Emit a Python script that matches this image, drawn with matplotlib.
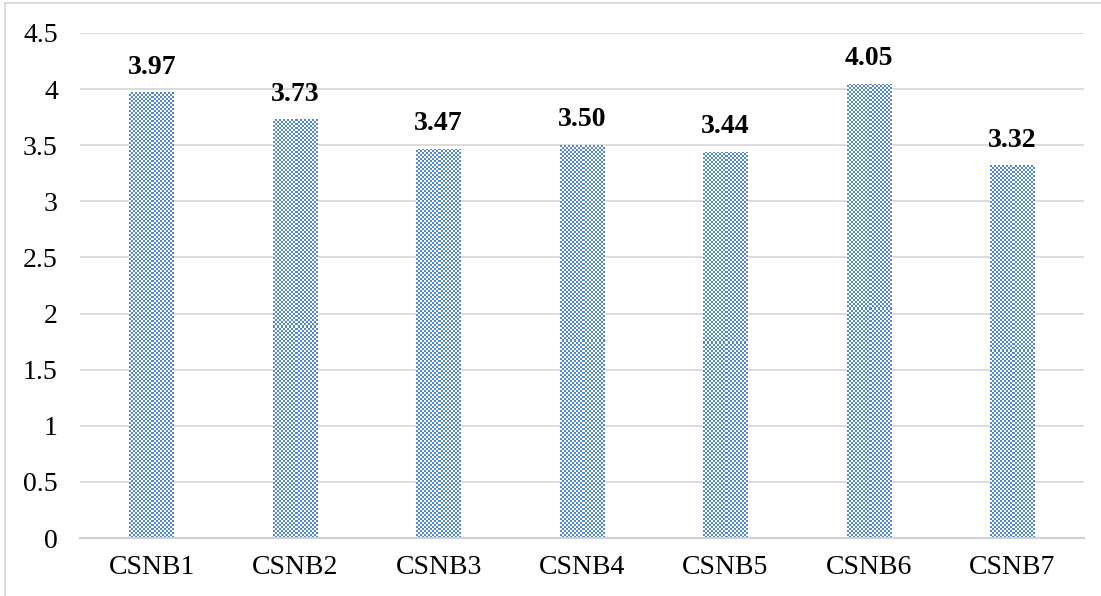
import numpy as np
import matplotlib
matplotlib.use("Agg")
import matplotlib.pyplot as plt
from matplotlib.colors import ListedColormap
from matplotlib.lines import Line2D

categories = ["CSNB1", "CSNB2", "CSNB3", "CSNB4", "CSNB5", "CSNB6", "CSNB7"]
scores = [3.97, 3.73, 3.47, 3.50, 3.44, 4.05, 3.32]
yticks = [0, 0.5, 1, 1.5, 2, 2.5, 3, 3.5, 4, 4.5]
ytick_labels = ["0", "0.5", "1", "1.5", "2", "2.5", "3", "3.5", "4", "4.5"]

plt.rcParams["font.family"] = ["Liberation Serif", "DejaVu Serif"]

W, H = 1101, 596
fig = plt.figure(figsize=(W / 100, H / 100), dpi=100)
ax = fig.add_axes([80 / W, 58 / H, 1004 / W, 505 / H])

x = np.arange(len(categories))
bw = 0.31
bars = ax.bar(x, scores, width=bw, color="none", edgecolor="none", zorder=2)

# checkered texture clipped to each bar (mimics Excel's pattern fill)
cmap = ListedColormap(["#ffffff", "#4F86DA"])
px_per_y = 505 / 4.5
px_per_x = 1004 / 7
cell = 2.0
for b in bars:
    x0, w, h = b.get_x(), b.get_width(), b.get_height()
    nx = max(1, int(round(w * px_per_x / cell)))
    ny = max(1, int(round(h * px_per_y / cell)))
    checker = (np.add.outer(np.arange(ny), np.arange(nx)) % 2).astype(float)
    im = ax.imshow(checker, extent=(x0, x0 + w, 0, h), cmap=cmap, vmin=0, vmax=1,
                   interpolation="nearest", aspect="auto", origin="lower", zorder=2)
    im.set_clip_path(b)

for xi, v in zip(x, scores):
    ax.text(xi, v + 0.115, f"{v:.2f}", ha="center", va="bottom",
            fontsize=20, fontweight="bold", color="black")

ax.set_xlim(-0.5, len(categories) - 0.5)
ax.set_ylim(0, 4.5)
ax.set_yticks(yticks)
ax.set_yticklabels(ytick_labels)
ax.set_xticks(x)
ax.set_xticklabels(categories)
ax.tick_params(axis="both", length=0, labelsize=20, colors="black")
ax.tick_params(axis="y", pad=16)
ax.tick_params(axis="x", pad=12)
ax.yaxis.grid(True, color="#D9D9D9", linewidth=1.3)
ax.set_axisbelow(True)
for s in ["top", "right", "left"]:
    ax.spines[s].set_visible(False)
ax.spines["bottom"].set_color("#D0D0D0")
ax.spines["bottom"].set_linewidth(1.5)

# outer chart border (left and top visible in the reference)
fig.add_artist(Line2D([5 / W, 5 / W], [0, 1 - 3 / H], transform=fig.transFigure,
                      color="#D9D9D9", linewidth=1.3))
fig.add_artist(Line2D([5 / W, 1], [1 - 3 / H, 1 - 3 / H], transform=fig.transFigure,
                      color="#D9D9D9", linewidth=1.3))

fig.savefig("out.png", dpi=100)
